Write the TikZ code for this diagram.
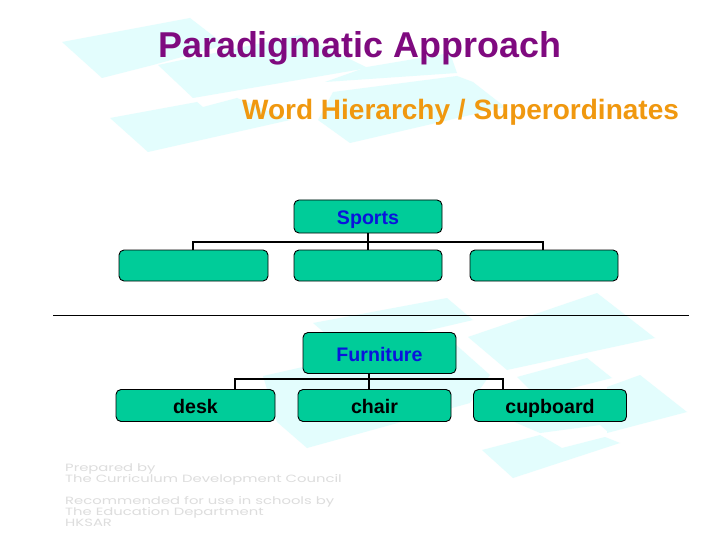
\documentclass[tikz,border=0pt]{standalone}
\usepackage{fontspec}
\setmainfont{Liberation Sans}
\newfontfamily\footfont[FakeStretch=1.41]{Poppins}
\definecolor{tile}{HTML}{E3FDFD}
\definecolor{boxfill}{HTML}{00CC99}
\definecolor{titlepurple}{HTML}{7F0A7F}
\definecolor{suborange}{HTML}{F0980F}
\definecolor{labelblue}{HTML}{0A14DC}
\definecolor{footgrey}{HTML}{DDDDDD}
\tikzset{
  tilepoly/.style={fill=tile,draw=none},
  orgbox/.style={draw=black,line width=0.9pt,fill=boxfill,rounded corners=5pt,inner sep=0pt,anchor=center,
    text height=16pt,text depth=0pt,
    font=\bfseries\fontsize{19.6}{22}\selectfont,text=black},
  headbox/.style={orgbox,text=labelblue},
  conn/.style={draw=black,line width=2pt,line cap=butt},
  foot/.style={anchor=base west,inner sep=0pt,text=footgrey,font=\footfont\fontsize{10.5}{11}\selectfont},
}
\begin{document}
\begin{tikzpicture}[x=1pt,y=-1pt]
\useasboundingbox (0,0) rectangle (720,540);
\fill[white] (0,0) rectangle (720,540);
% background tiles, upper group
\fill[tilepoly] (62,42)--(190,18)--(225,45)--(153,65)--(102,78)--cycle;
\fill[tilepoly] (158,65)--(300,35)--(368,68)--(193,98)--cycle;
\fill[tilepoly] (367,67)--(450,53)--(457,73)--(325,82)--cycle;
\fill[tilepoly] (318,120)--(333,92)--(457,76)--(473,82)--(505,107)--(350,143)--cycle;
\fill[tilepoly] (110,118)--(197,102)--(203,107)--(237,98)--(290,120)--(148,152)--cycle;
% background tiles, lower group
\fill[tilepoly] (313,323)--(447,298)--(473,320)--(345,350)--cycle;
\fill[tilepoly] (263,376)--(445,335)--(490,375)--(470,403)--(307,448)--(277,422)--cycle;
\fill[tilepoly] (468,337)--(597,293)--(655,338)--(507,370)--cycle;
\fill[tilepoly] (517,377)--(587,358)--(612,378)--(537,397)--cycle;
\fill[tilepoly] (607,387)--(640,375)--(687,412)--(607,433)--cycle;
\fill[tilepoly] (505,418)--(620,418)--(607,431)--(600,425)--(540,433)--cycle;
\fill[tilepoly] (482,450)--(540,435)--(562,448)--(605,437)--(620,443)--(513,478)--cycle;
% footer
\node[foot] (f1) at (65,471) {Prepared by};
\node[foot] (f2) at (65,482) {The Curriculum Development Council};
\node[foot] (f3) at (65,504) {Recommended for use in schools by};
\node[foot] (f4) at (65,515) {The Education Department};
\node[foot] (f5) at (65,526) {HKSAR};
% titles
\node[anchor=base west,inner sep=0pt,text=titlepurple,font=\bfseries\fontsize{35.9}{40}\selectfont] (title) at (158,58) {Paradigmatic Approach};
\node[anchor=base west,inner sep=0pt,text=suborange,font=\bfseries\fontsize{28}{32}\selectfont] (subtitle) at (242,119.5) {Word Hierarchy / Superordinates};
% divider
\coordinate (ruleL) at (53,315);
\coordinate (ruleR) at (689,315);
\draw[black,line width=0.9pt] (ruleL) -- (ruleR);
% sports chart
\coordinate (sbus) at (368,242);
\node[headbox,minimum width=148pt,minimum height=33pt] (sports) at (368,216.5) {Sports};
\coordinate (sdropL) at (192.5,250);
\coordinate (sdropR) at (543,250);
\draw[conn] (sdropL) |- (sbus) -| (sdropR);
\node[orgbox,minimum width=149pt,minimum height=31pt] (s1) at (193.5,265.5) {};
\node[orgbox,minimum width=148pt,minimum height=31pt] (s2) at (368,265.5) {};
\node[orgbox,minimum width=148pt,minimum height=31pt] (s3) at (544,265.5) {};
\draw[conn] (sports.south) -- (s2.north);
% furniture chart
\coordinate (fbus) at (369,379);
\node[headbox,minimum width=153pt,minimum height=41pt] (furn) at (379.5,353) {Furniture};
\coordinate (fdropL) at (234.5,389);
\coordinate (fdropM) at (369,389);
\coordinate (fdropR) at (503,389);
\coordinate (ftop) at (369,373);
\draw[conn] (fdropL) |- (fbus) -| (fdropR);
\draw[conn] (ftop) -- (fdropM);
\node[orgbox,minimum width=159pt,minimum height=32pt] (desk) at (195.5,405.5) {desk};
\node[orgbox,minimum width=153pt,minimum height=32pt] (chair) at (374.5,405.5) {chair};
\node[orgbox,minimum width=153pt,minimum height=32pt] (cupboard) at (550,405.5) {cupboard};
\end{tikzpicture}
\end{document}
